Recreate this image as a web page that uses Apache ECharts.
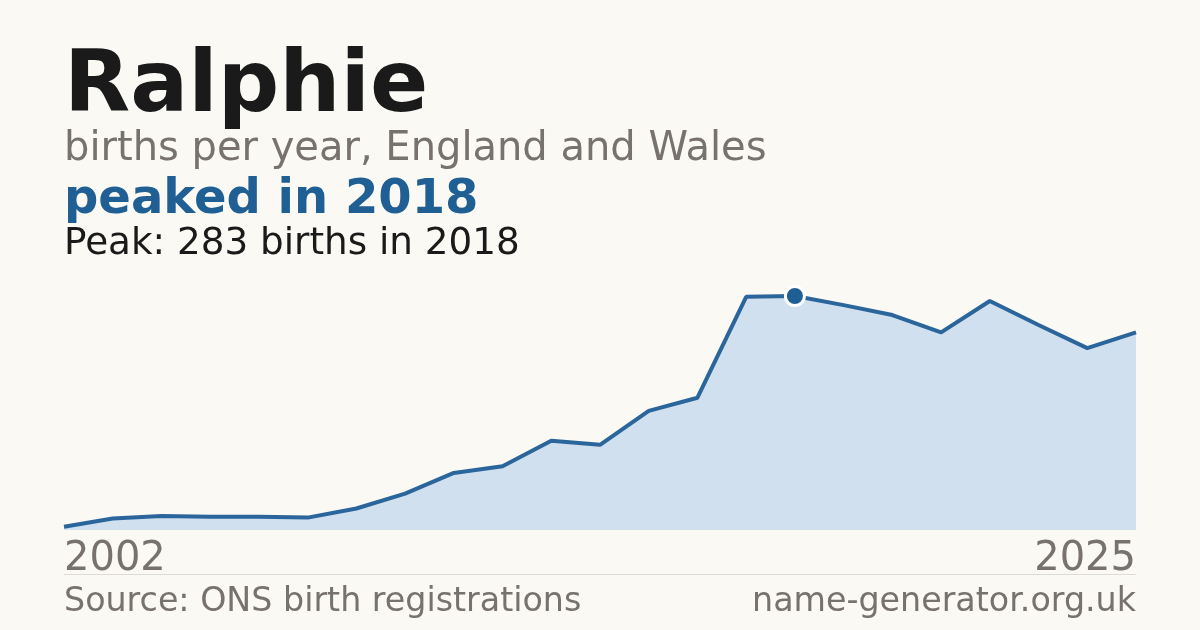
<!DOCTYPE html>
<html>
<head>
<meta charset="utf-8">
<script src="https://cdn.jsdelivr.net/npm/echarts@6/dist/echarts.min.js"></script>
<style>
  html, body { margin: 0; padding: 0; background: #faf9f4; }
  #chart { width: 1200px; height: 630px; }
</style>
</head>
<body>
<div id="chart"></div>
<script>
// years shown on the chart (one year has no entry in the source series)
var years = ['2002', '2003', '2005', '2006', '2007', '2008', '2009', '2010', '2011', '2012',
             '2013', '2014', '2015', '2016', '2017', '2018', '2019', '2020', '2021', '2022',
             '2023', '2024', '2025'];
var births = [4, 14, 17, 16, 16, 15, 26, 44, 69, 77,
              108, 103, 144, 160, 282, 283, 272, 260, 239, 277,
              248, 220, 239];

var blue = '#1f5f94';
var grey = '#77726b';
var ink = '#1a1a1a';
var font = 'DejaVu Sans';

var chart = echarts.init(document.getElementById('chart'));
var last = years.length - 1;

chart.setOption({
  backgroundColor: '#faf9f4',
  animation: false,
  grid: { left: 64, right: 64, top: 296, bottom: 100 },
  xAxis: {
    type: 'category',
    data: years,
    boundaryGap: false,
    axisLine: { show: false },
    axisTick: { show: false },
    axisLabel: {
      interval: function (i) { return i === 0 || i === last; },
      alignMinLabel: 'left',
      alignMaxLabel: 'right',
      fontFamily: font,
      fontSize: 40,
      color: grey,
      margin: 10
    }
  },
  yAxis: {
    type: 'value',
    min: 0,
    max: 283,
    show: false,
    splitLine: { show: false }
  },
  series: [{
    type: 'line',
    data: births,
    symbol: 'none',
    lineStyle: { color: '#2a659b', width: 4 },
    areaStyle: { color: '#d0e0ef', opacity: 1 },
    markPoint: {
      symbol: 'circle',
      symbolSize: 19,
      itemStyle: { color: blue, borderColor: '#ffffff', borderWidth: 3 },
      label: { show: false },
      data: [{ type: 'max' }]
    }
  }],
  graphic: [
    { type: 'text', left: 64, top: 46,
      style: { text: 'Ralphie', font: 'bold 86px "DejaVu Sans"', fill: ink } },
    { type: 'text', left: 64, top: 130,
      style: { text: 'births per year, England and Wales', font: '40px "DejaVu Sans"', fill: grey } },
    { type: 'text', left: 64, top: 177,
      style: { text: 'peaked in 2018', font: 'bold 48px "DejaVu Sans"', fill: blue } },
    { type: 'text', left: 64, top: 226,
      style: { text: 'Peak: 283 births in 2018', font: '37.3px "DejaVu Sans"', fill: ink } },
    { type: 'line', shape: { x1: 64, y1: 574.5, x2: 1136, y2: 574.5 },
      style: { stroke: '#dedbd4', lineWidth: 1 } },
    { type: 'text', left: 64, top: 586,
      style: { text: 'Source: ONS birth registrations', font: '33.3px "DejaVu Sans"', fill: grey } },
    { type: 'text', right: 64, top: 586,
      style: { text: 'name-generator.org.uk', font: '33.3px "DejaVu Sans"', fill: grey } }
  ]
});
</script>
</body>
</html>
